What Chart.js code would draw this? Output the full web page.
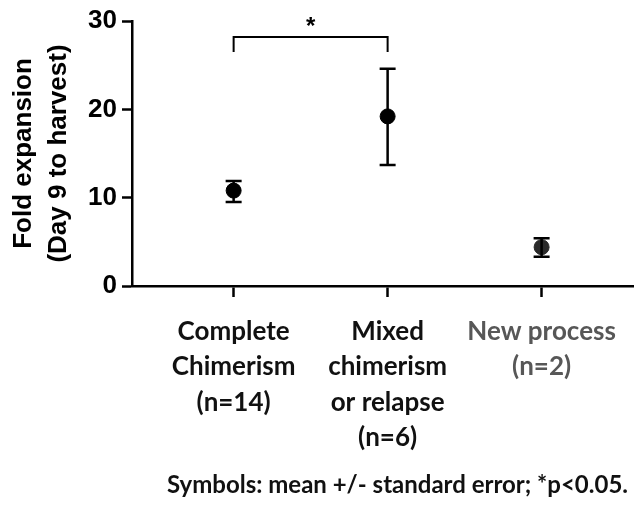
<!DOCTYPE html>
<html lang="en">
<head>
    <meta charset="UTF-8">
    <title>Fold expansion</title>
    <script src="https://cdn.jsdelivr.net/npm/chart.js"></script>
    <style>
        html, body { margin: 0; padding: 0; background: #fff; }
        #wrap { width: 634px; height: 508px; }
    </style>
</head>
<body>
    <div id="wrap"><canvas id="foldChart" width="634" height="508"></canvas></div>

    <script>
        // groups, values
        const groups = [
            ['Complete', 'Chimerism', '(n=14)'],
            ['Mixed', 'chimerism', 'or relapse', '(n=6)'],
            ['New process', '(n=2)']
        ];
        const means = [10.8, 19.2, 4.4];
        const errLow = [9.5, 13.7, 3.3];
        const errHigh = [11.9, 24.6, 5.4];
        const yTicks = [0, 10, 20, 30];
        const pointColors = ['#000000', '#000000', '#2a2a2a'];
        const labelColors = ['#111111', '#111111', '#575757'];

        // significance bracket between group 0 and 1
        const sigPair = [0, 1];
        const sigTop = 28.2;
        const sigLeg = 26.5;
        const sigText = '*';
        const footnote = 'Symbols: mean +/- standard error; *p<0.05.';

        const labelFont = 'Lato, "Open Sans", sans-serif';
        const arialFont = '"Liberation Sans", Arial, sans-serif';

        // error bars, bracket and footnote
        const extras = {
            id: 'extras',
            afterDatasetsDraw(chart) {
                const ctx = chart.ctx;
                const xs = chart.scales.x, ys = chart.scales.y;
                ctx.save();
                ctx.lineWidth = 2.5;
                means.forEach((m, i) => {
                    const x = xs.getPixelForValue(i);
                    const lo = ys.getPixelForValue(errLow[i]);
                    const hi = ys.getPixelForValue(errHigh[i]);
                    ctx.strokeStyle = '#000';
                    ctx.beginPath();
                    ctx.moveTo(x, lo); ctx.lineTo(x, hi);
                    ctx.moveTo(x - 8, lo); ctx.lineTo(x + 8, lo);
                    ctx.moveTo(x - 8, hi); ctx.lineTo(x + 8, hi);
                    ctx.stroke();
                });

                const x0 = xs.getPixelForValue(sigPair[0]);
                const x1 = xs.getPixelForValue(sigPair[1]);
                const yt = ys.getPixelForValue(sigTop);
                const yl = ys.getPixelForValue(sigLeg);
                ctx.strokeStyle = '#000';
                ctx.lineWidth = 2;
                ctx.beginPath();
                ctx.moveTo(x0, yl); ctx.lineTo(x0, yt); ctx.lineTo(x1, yt); ctx.lineTo(x1, yl);
                ctx.stroke();
                ctx.fillStyle = '#000';
                ctx.font = 'bold 24px ' + arialFont;
                ctx.textAlign = 'center';
                ctx.textBaseline = 'middle';
                ctx.fillText(sigText, (x0 + x1) / 2, yt - 10);
                ctx.restore();
            },
            afterDraw(chart) {
                const ctx = chart.ctx;
                ctx.save();
                ctx.fillStyle = '#111';
                ctx.font = 'bold 24px ' + labelFont;
                ctx.textAlign = 'right';
                ctx.textBaseline = 'middle';
                ctx.fillText(footnote, chart.width - 6, 485);
                ctx.restore();
            }
        };

        new Chart(document.getElementById('foldChart'), {
            type: 'scatter',
            data: {
                datasets: [{
                    data: means.map((m, i) => ({ x: i, y: m })),
                    backgroundColor: pointColors,
                    borderColor: pointColors,
                    pointRadius: 7.5,
                    pointHoverRadius: 7.5
                }]
            },
            options: {
                responsive: false,
                animation: false,
                layout: { autoPadding: false, padding: { top: 21, left: 0, right: 0, bottom: 0 } },
                plugins: { legend: { display: false }, tooltip: { enabled: false } },
                scales: {
                    x: {
                        type: 'linear',
                        min: -0.66,
                        max: 2.6,
                        afterBuildTicks: s => { s.ticks = groups.map((g, i) => ({ value: i })); },
                        afterFit: s => { s.height = 222; s.paddingLeft = 0; s.paddingRight = 0; },
                        border: { color: '#000', width: 2.5 },
                        grid: { drawOnChartArea: false, tickLength: 11, tickWidth: 2.5, tickColor: '#000' },
                        ticks: {
                            autoSkip: false,
                            maxRotation: 0,
                            padding: 17,
                            callback: v => groups[v],
                            color: c => labelColors[c.index],
                            font: { family: labelFont, size: 26, weight: 'bold', lineHeight: 1.36 }
                        }
                    },
                    y: {
                        min: 0,
                        max: 30,
                        afterBuildTicks: s => { s.ticks = yTicks.map(v => ({ value: v })); },
                        afterFit: s => { s.width = 132; },
                        border: { color: '#000', width: 2.5 },
                        grid: { drawOnChartArea: false, tickLength: 10, tickWidth: 2.5, tickColor: '#000' },
                        ticks: {
                            padding: 5,
                            color: '#000',
                            font: { family: arialFont, size: 26, weight: 'bold' }
                        },
                        title: {
                            display: true,
                            text: ['Fold expansion', '(Day 9 to harvest)'],
                            color: '#000',
                            padding: { top: 6, bottom: 0 },
                            font: { family: arialFont, size: 26, weight: 'bold', lineHeight: 1.35 }
                        }
                    }
                }
            },
            plugins: [extras]
        });
    </script>
</body>
</html>
